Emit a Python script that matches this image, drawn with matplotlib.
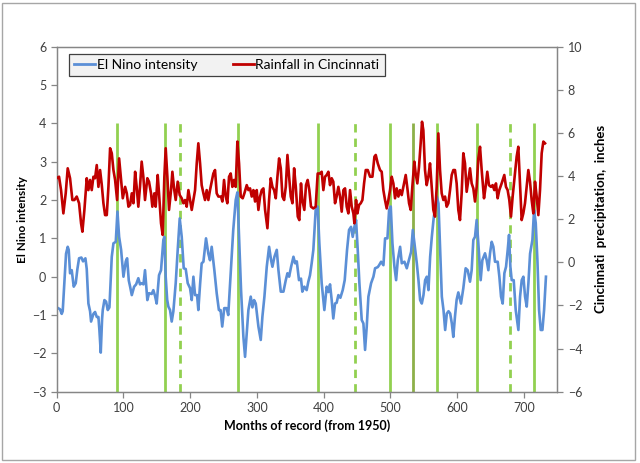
import matplotlib
matplotlib.use("Agg")
import matplotlib.pyplot as plt
from matplotlib.lines import Line2D
from matplotlib.patches import Rectangle

plt.rcParams['font.family'] = ['Lato', 'DejaVu Sans']

# El Nino intensity (left axis): month, value
nino_month = [0, 2, 5, 7.5, 9, 11.5, 14, 16.5, 18, 20, 22.5, 25.5, 28.5, 31, 33.5, 37, 39.5, 43, 45, 47.5,
              50, 51.5, 55, 57.5, 60, 62.5, 64, 66, 68, 69, 71.5, 74, 76.5, 79, 82.5, 85, 88.5, 91, 93.5, 96.5,
              100, 103.5, 105.5, 108, 110, 112.5, 116, 119, 122.3, 124.8, 127.3, 130, 132.3, 135.8, 138.3, 142.3,
              144.8, 147.3, 149.8, 153.3, 156.3, 159.8, 161.3, 163.3, 165.5, 167.3, 169.8, 172.3, 174.8, 178.3,
              181.3, 184.3, 187.3, 190.3, 193.3, 196.3, 199.8, 202.3, 204.8, 207.3, 210.3, 212.2, 214.8, 217.2,
              219.8, 223.7, 227.2, 229.7, 232.2, 236.2, 239.7, 243, 245.5, 248, 251, 254.5, 257, 261, 264.5,
              268.2, 270.7, 273.2, 276.2, 279.7, 282.2, 284.7, 287.2, 290.7, 293.2, 295.7, 298.2, 302.2, 305.7,
              308.2, 311.2, 314.7, 318.2, 321.2, 323.2, 326.2, 329.7, 332.2, 335.7, 339.7, 343.2, 345.7, 348.2,
              351.2, 354.7, 357.2, 359.7, 363, 366, 368, 371, 374.5, 377, 379.5, 382, 384.5, 388, 391, 393.5,
              397, 401, 404.5, 407, 409.5, 412, 414.4, 417, 419.4, 422, 425, 428.5, 431.5, 435, 438, 441, 443.5,
              446, 448.5, 451, 453.5, 457, 459.5, 462, 464.5, 467, 471, 474.5, 477, 481, 483, 486, 489.5, 492,
              495.5, 498, 500.5, 503, 506, 508.5, 511, 514.5, 517, 521, 524.5, 527, 531, 533.5, 536, 539.5, 542,
              544.5, 547, 549.5, 552, 554.5, 557, 559.5, 562, 564.5, 567, 569.5, 572, 574.5, 577, 579.5, 582,
              584.5, 587, 589.5, 592, 594.2, 596.7, 599.2, 601.7, 605.7, 609.2, 612.7, 615.7, 619.2, 621.7, 624.2,
              626.7, 629.2, 631.7, 635.2, 637.7, 641.7, 644.2, 646.7, 649.2, 651.7, 654.2, 656.7, 660.7, 663.2,
              665.7, 668.2, 670.7, 673.2, 675.7, 677.7, 679.7, 681.7, 684.7, 687.7, 689.7, 691.7, 694.2, 696.7,
              699.2, 701.7, 704.2, 706.7, 709.2, 712.7, 715.2, 717.7, 720.2, 722.7, 725.2, 727.7, 730.2, 733]
nino_value = [-0.8, -0.82, -0.85, -0.97, -0.9, -0.17, 0.6, 0.78, 0.7, 0.09, 0.17, -0.26, -0.17, 0.2, 0.48, 0.5, 0.4, 0.48, 0.2, -0.7,
              -0.9, -1.17, -0.97, -0.92, -1.05, -1.05, -1.4, -1.98, -1.1, -0.87, -0.61, -0.65, -0.87, -0.8, 0.52, 0.87, 0.91, 1.7, 1.04, 0.7,
              0.0, 0.4, 0.48, -0.1, -0.26, -0.48, -0.26, -0.2, -0.04, -0.2, -0.17, -0.2, 0.17, -0.61, -0.43, -0.45,
              -0.35, -0.5, -0.7, 0.04, 0.17, 0.96, 1.04, 0.0, -0.6, -0.78, -0.87, -1.17, -0.9, -0.17,
              0.7, 1.52, 1.04, 0.22, 0.2, -0.17, -0.3, -0.61, 0.0, -0.48, -0.48, -0.87, -0.2, 0.35,
              0.39, 1.0, 0.6, 0.43, 0.78, 0.17, -0.43, -0.87, -0.87, -1.3, -0.82, -0.82, -1.0, 0.17, 1.22,
              2.0, 2.2, 1.04, -0.35, -1.57, -2.09, -1.48, -0.87, -0.52, -0.8, -0.61, -0.7, -1.3, -1.65,
              -1.04, -0.52, 0.26, 0.78, 0.43, 0.26, 0.52, 0.7, 0.17, -0.39, -0.39, -0.09, 0.09, 0.0,
              0.26, 0.52, 0.35, 0.4, -0.09, -0.05, -0.39, -0.26, -0.35, -0.13, 0.04, 0.35, 0.7, 1.74, 1.83, 0.87,
              -0.17, -0.87, -0.26, -0.4, -0.2, -0.61, -1.09, -0.7, -0.68, -0.48, -0.55, -0.35, -0.09, 0.7, 1.22, 1.3, 1.04,
              1.3, 1.48, 0.7, -0.17, -1.13, -1.22, -1.91, -1.3, -0.52, -0.17, 0.0, 0.22, 0.25, 0.3, 0.39, 0.3, 1.0,
              1.0, 1.74, 1.83, 0.87, 0.26, -0.09, 0.43, 0.78, 0.35, 0.39, 0.22, 0.39, 0.65, 1.22, 0.87, 0.35, -0.09,
              -0.61, -0.7, -0.48, -0.09, 0.0, -0.35, 0.52, 1.04, 1.48, 1.83, 2.09, 1.91, 0.7, -0.52, -0.87, -1.39,
              -0.96, -0.9, -0.96, -1.22, -1.57, -1.04, -0.6, -0.41, -0.7, -0.3, 0.22, 0.17, -0.13, 0.17, 0.96,
              1.04, 1.48, 0.87, -0.09, 0.43, 0.61, 0.43, 0.17, 0.61, 0.91, 0.78, 0.39, 0.39, 0.0,
              -0.52, -0.7, 0.09, 0.26, 0.7, 1.09, 0.26, -0.09, -0.09, -0.87, -1.13, -1.39, -0.52, -0.09,
              0.0, -0.52, -0.78, -0.17, 0.6, 0.96, 1.74, 1.4, 0.43, -0.87, -1.39, -1.39, -0.87, 0.0]

# Rainfall in Cincinnati (right axis, inches): month, value
rain_month = [0, 3.5, 6.5, 10, 13.5, 16.5, 20, 23.5, 26.5, 30, 33.5, 36.5, 38.5, 41.5, 45, 47.5, 50, 52.5, 55, 57.5,
              60, 62.5, 65, 67.5, 70, 72.5, 75, 77.5, 80, 82.5, 85, 87.5, 90.5, 93.5, 96, 99, 102.5, 105, 107.5, 110,
              112.5, 115, 117.5, 119.8, 122.3, 124.8, 127.3, 129.8, 132.3, 135.8, 138.3, 141.3, 143.3, 146.3, 148.3,
              151.3, 153.3, 156.3, 158.8, 161.3, 163.3, 165.8, 168.3, 171.3, 173.3, 175.8, 178.3, 181.3, 184.3,
              187.3, 189.8, 192.3, 194.8, 197.3, 199.8, 202.3, 204.8, 207.3, 209.8, 212.2, 214.8, 217.2, 219.8,
              222.2, 224.7, 227.2, 229.7, 232.2, 234.7, 237.2, 239.7, 242.2, 246.2, 248.2, 250.7, 253.2, 255.7,
              258.2, 260.7, 263.2, 265.7, 268.2, 270.7, 273.2, 275.7, 278.7, 281.2, 284.7, 287.2, 289.7, 292.2,
              294.7, 297.2, 299.7, 302.2, 304.7, 307.2, 309.7, 312.2, 315.7, 318.2, 320.7, 323.2, 325.7, 328.2,
              330.7, 333.2, 335.7, 338.2, 340.7, 343.2, 345.7, 348.2, 350.7, 353.2, 355.7, 358.2, 361.2, 363.5,
              366, 368, 371, 373.5, 376, 378.5, 381, 384.5, 388, 391, 394.5, 397, 399.5, 402, 404.5, 407, 409.5,
              412, 414.4, 417, 419.4, 422, 424.5, 427, 429.5, 432, 434.5, 437, 439.5, 442, 444.5, 446, 448.5,
              450.5, 453, 455.5, 458, 460.5, 463, 466, 469.5, 473, 476, 478, 481, 484.4, 486.9, 489.4, 491.9,
              494.4, 496.9, 499.4, 501.9, 504.4, 506.9, 509.4, 511.9, 514.4, 516.9, 519.4, 522.9, 525.4, 527.9,
              530.4, 532.8, 535.8, 537.8, 540.3, 542.8, 545.3, 547.3, 549.3, 551.8, 554.3, 556.8, 559.3, 561.8,
              564.3, 566.8, 569.3, 571.8, 574.3, 576.8, 579.3, 581.8, 584.3, 586.8, 589.3, 591.8, 594.3, 596.7,
              599.2, 601.7, 604.2, 606.7, 609.2, 611.7, 614.2, 616.7, 619.2, 621.7, 624.2, 626.7, 629.2, 631.7,
              634.2, 636.7, 640.2, 642.6, 645.1, 647.6, 650.6, 653.1, 655.6, 658.1, 660.6, 663.1, 666.6, 670.6,
              673.1, 675.6, 678.1, 680.6, 683.1, 685.6, 689.1, 691.6, 694.1, 696.6, 699.1, 701.6, 704.1, 706.6,
              709.1, 711.6, 714.1, 716.6, 719.1, 721.6, 724.1, 726.6, 729.1, 731.6]
rain_value = [3.9, 3.97, 3.35, 2.27, 3.2, 4.36, 3.9, 2.89, 2.89, 3.05, 2.74, 1.81, 1.42, 2.43, 3.9, 3.35, 3.82, 3.35, 3.97, 3.9,
              4.51, 3.5, 4.28, 3.6, 2.74, 2.19, 2.19, 3.5, 5.29, 5.06, 4.28, 3.82, 2.89, 4.82, 3.97, 2.97, 3.5, 3.2, 2.58, 2.66,
              3.2, 2.74, 4.2, 3.5, 2.58, 3.5, 4.67, 3.97, 2.89, 3.9, 3.74, 3.2, 2.58, 3.2, 2.58,
              4.05, 3.2, 1.81, 1.27, 3.97, 5.29, 3.97, 2.43, 3.35, 4.2, 3.43, 2.89, 3.74, 3.12,
              2.97, 2.74, 2.89, 2.58, 3.35, 2.89, 2.43, 2.89, 3.35, 4.59, 5.52, 4.59, 3.58, 3.2,
              2.89, 3.35, 2.89, 3.35, 3.74, 4.12, 4.28, 3.2, 3.05, 3.05, 2.82, 3.82, 3.05, 2.74,
              3.97, 4.12, 3.5, 3.82, 3.5, 5.6, 4.59, 3.05, 2.97, 3.2, 3.58, 3.35, 3.43, 3.05,
              3.35, 2.82, 3.35, 2.43, 3.05, 3.35, 3.43, 2.43, 1.58, 2.9, 3.9, 3.5, 3.35, 2.97,
              3.97, 4.82, 4.36, 3.05, 2.89, 3.5, 4.98, 3.97, 3.05, 2.74, 4.36, 3.5, 2.12, 1.96,
              3.66, 2.89, 2.43, 3.58, 3.82, 3.35, 2.58, 2.5, 2.58, 4.12, 4.12, 4.2, 3.35, 3.97, 4.05, 4.2, 3.58,
              3.9, 3.74, 2.74, 3.05, 3.5, 3.05, 2.35, 3.35, 3.43, 2.58, 2.27, 3.35, 2.58, 2.27, 1.81, 2.89,
              2.27, 2.66, 2.74, 2.89, 3.66, 4.28, 4.28, 3.97, 3.97, 4.9, 4.98, 4.59, 4.28, 4.2, 3.35, 2.89,
              2.5, 2.89, 3.35, 3.97, 3.66, 2.97, 3.43, 3.05, 3.35, 3.12, 3.5, 4.05, 3.43, 2.74,
              2.43, 3.5, 4.67, 4.12, 3.66, 4.43, 5.52, 6.52, 6.13, 4.28, 3.58, 3.97, 4.59, 3.5,
              2.43, 2.12, 3.5, 5.98, 4.28, 3.2, 2.89, 3.05, 2.58, 2.74, 3.35, 4.05, 4.28, 4.28,
              3.66, 2.43, 1.96, 3.2, 5.06, 4.59, 3.27, 3.82, 4.36, 3.66, 3.43, 2.82, 3.5, 4.82,
              5.36, 4.28, 2.97, 3.5, 4.2, 3.58, 3.5, 3.58, 3.35, 3.66, 2.97, 3.35, 3.66, 4.05,
              3.5, 3.35, 2.89, 2.12, 3.05, 3.82, 4.9, 5.36, 3.66, 1.96, 2.27, 2.74, 3.5, 4.28,
              3.74, 2.89, 2.27, 3.74, 3.05, 2.19, 3.35, 5.06, 5.6, 5.52]

# El Nino event markers (months)
solid_events = [91, 162, 271, 392, 500, 570, 630, 715]
dark_events = [534]
dashed_events = [185, 447, 679]

x_ticks = [0, 100, 200, 300, 400, 500, 600, 700]
left_ticks = [-3, -2, -1, 0, 1, 2, 3, 4, 5, 6]
right_ticks = [-6, -4, -2, 0, 2, 4, 6, 8, 10]

BLUE = '#5B8FD6'
RED = '#C00000'
GREEN = '#92D050'
DARKGREEN = '#8DB049'
AXCOL = '#868686'
TXT = '#404040'

fig = plt.figure(figsize=(6.4, 4.63), dpi=100)
fig.patches.append(Rectangle((2/640, 3/463), 633/640, 457/463, transform=fig.transFigure,
                             fill=False, edgecolor='#A6A6A6', linewidth=1.0))
ax = fig.add_axes([56.7/640, 1-391.7/463, (557.3-56.7)/640, (391.7-46.7)/463])
ax2 = ax.twinx()

ax.vlines(solid_events, -3, 4, colors=GREEN, linewidth=2.0, zorder=1)
ax.vlines(dark_events, -3, 4, colors=DARKGREEN, linewidth=2.0, zorder=1)
ax.vlines(dashed_events, -3, 4, colors=GREEN, linewidth=2.0, linestyles=(0, (3, 2.2)), zorder=1)

ax.plot(nino_month, nino_value, color=BLUE, linewidth=1.9, zorder=3, solid_joinstyle='round')
ax2.plot(rain_month, rain_value, color=RED, linewidth=1.9, zorder=3, solid_joinstyle='round')

ax.set_xlim(0, 750)
ax.set_ylim(-3, 6)
ax2.set_ylim(-6, 10)
ax.set_xticks(x_ticks)
ax.set_yticks(left_ticks)
ax2.set_yticks(right_ticks)

for a in (ax, ax2):
    for s in a.spines.values():
        s.set_color(AXCOL)
        s.set_linewidth(0.9)
    a.tick_params(colors=TXT, labelsize=9, length=4, width=0.9, direction='out')
    a.tick_params(axis='both', color=AXCOL)

ax.set_xlabel('Months of record (from 1950)', fontsize=9, fontweight='bold', color='black', labelpad=4)
ax.set_ylabel('El Nino intensity', fontsize=8.5, fontweight='bold', color='black', labelpad=3)
ax2.set_ylabel('Cincinnati  precipitation,  inches', fontsize=9.5, fontweight='bold', color='black',
               labelpad=9)

handles = [Line2D([], [], color=BLUE, linewidth=2), Line2D([], [], color=RED, linewidth=2)]
leg = fig.legend(handles, ['El Nino intensity', 'Rainfall in Cincinnati'], ncol=2,
                 loc='center', bbox_to_anchor=(227/640, 1-65/463), frameon=True, fancybox=False,
                 fontsize=10, handlelength=1.5, handletextpad=0.1, columnspacing=2.6,
                 borderpad=0.38, borderaxespad=0, labelcolor='black')
leg.get_frame().set_facecolor('#F2F2F2')
leg.get_frame().set_edgecolor('#404040')
leg.get_frame().set_linewidth(0.9)
leg.get_frame().set_alpha(1)

fig.savefig('out.png', dpi=100)
